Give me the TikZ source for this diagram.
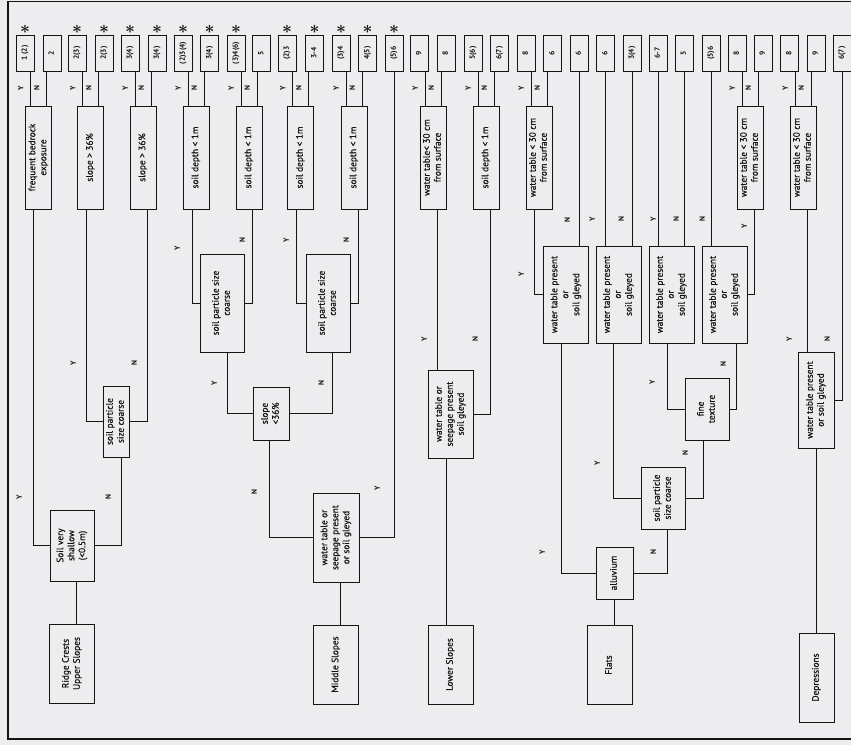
\documentclass[tikz,border=0pt]{standalone}
\usepackage{graphicx}
\usepackage{fontspec}
\setmainfont{PT Sans}
\newfontfamily\boxfont[FakeBold=0.7]{PT Sans}
\usetikzlibrary{positioning}

\definecolor{paper}{RGB}{237,237,239}
\definecolor{ink}{RGB}{20,20,20}

% rotated (bottom-to-top) text, several lines allowed
\newcommand{\rt}[1]{\rotatebox{90}{\begin{tabular}{@{}c@{}}#1\end{tabular}}}
% question box with its two answer leaves
\newcommand{\yn}[3]{%
  \draw ([xshift=-8pt]#1.north) -- ([xshift=-8pt]#1.north |- #2.south) node[lbl, midway, left=4pt] {\rt{Y}};
  \draw ([xshift=8pt]#1.north) -- ([xshift=8pt]#1.north |- #3.south) node[lbl, midway, left=4pt] {\rt{N}};}

\begin{document}
\begin{tikzpicture}[
		x=1pt, y=-1pt,
		line width=0.8pt, color=ink,
		box/.style={draw=ink, inner sep=0pt, fill=paper, font=\boxfont\fontsize{9.3}{11}\selectfont},
		ask/.style={box, minimum width=26pt, minimum height=103pt},
		leaf/.style={box, minimum width=18pt, minimum height=36pt, font=\fontsize{7.5}{9}\selectfont\bfseries},
		wtp/.style={box, minimum width=45pt, minimum height=97pt},
		site/.style={box, minimum width=45pt, minimum height=79pt},
		lbl/.style={inner sep=0pt, font=\fontsize{7.5}{9}\selectfont\bfseries},
		starred/.style={label={[inner sep=0pt, label distance=1pt, font=\LARGE\boldmath]above:$\ast$}}
		]
		\fill[paper] (0,0) rectangle (851,745);
		\useasboundingbox (0,0) rectangle (851,745);
		% frame
		\draw[line width=1.6pt] (851,1.5) -- (8,1.5) -- (8,739) -- (851,739);
		
		% Ridge crests / upper slopes
		\node[ask] (bedrock) at (38.5,157.5) {\rt{frequent bedrock\\exposure}};
		\node[leaf, starred] (bedrock-y) at (25,53) {\rt{1 (2)}};
		\node[leaf] (bedrock-n) at (52,53) {\rt{2}};
		\node[ask] (slopeA) at (90.5,157.5) {\rt{slope > 36\%}};
		\node[leaf, starred] (slopeA-y) at (77,53) {\rt{2(3)}};
		\node[leaf, starred] (slopeA-n) at (104,53) {\rt{2(3)}};
		\node[ask] (slopeB) at (143,157.5) {\rt{slope > 36\%}};
		\node[leaf, starred] (slopeB-y) at (130,53) {\rt{3(4)}};
		\node[leaf, starred] (slopeB-n) at (157,53) {\rt{3(4)}};
		\node[box, minimum width=26pt, minimum height=71pt] (coarseR) at (116,421.5) {\rt{soil particle\\size coarse}};
		\node[box, minimum width=44pt, minimum height=71pt] (shallow) at (72,545.5) {\rt{Soil very\\shallow\\(<0.5m)}};
		\node[site] (ridge) at (72,663.5) {\rt{Ridge Crests\\Upper Slopes}};
		
		% Middle slopes
		\node[ask] (depthA) at (196,157.5) {\rt{soil depth < 1m}};
		\node[leaf, starred] (depthA-y) at (183,53) {\rt{(2)3(4)}};
		\node[leaf, starred] (depthA-n) at (209.5,53) {\rt{3(4)}};
		\node[ask] (depthB) at (249,157.5) {\rt{soil depth < 1m}};
		\node[leaf, starred] (depthB-y) at (236,53) {\rt{(3)4(6)}};
		\node[leaf] (depthB-n) at (261.5,53) {\rt{5}};
		\node[ask] (depthC) at (300.5,157.5) {\rt{soil depth < 1m}};
		\node[leaf, starred] (depthC-y) at (287,53) {\rt{(2)3}};
		\node[leaf, starred] (depthC-n) at (314.5,53) {\rt{3-4}};
		\node[ask] (depthD) at (354,157.5) {\rt{soil depth < 1m}};
		\node[leaf, starred] (depthD-y) at (341,53) {\rt{(3)4}};
		\node[leaf, starred] (depthD-n) at (367.5,53) {\rt{4(5)}};
		\node[leaf, starred] (wetM-y) at (394,53) {\rt{(5)6}};
		\node[box, minimum width=44pt, minimum height=98pt] (coarseM1) at (222,303) {\rt{soil particle size\\coarse}};
		\node[box, minimum width=44pt, minimum height=98pt] (coarseM2) at (328,303) {\rt{soil particle size\\coarse}};
		\node[box, minimum width=36pt, minimum height=53pt] (slope) at (271,413.5) {\rt{slope\\<36\%}};
		\node[box, minimum width=46pt, minimum height=89pt] (midwet) at (336,537.5) {\rt{water table or\\seepage present\\or soil gleyed}};
		\node[site] (middle) at (336,664.5) {\rt{Middle Slopes}};
		
		% Lower slopes
		\node[ask] (wtL) at (433,157.5) {\rt{water table< 30 cm\\from surface}};
		\node[leaf] (wtL-y) at (419.5,53) {\rt{9}};
		\node[leaf] (wtL-n) at (446,53) {\rt{8}};
		\node[ask] (depthL) at (486,157.5) {\rt{soil depth < 1m}};
		\node[leaf] (depthL-y) at (473,53) {\rt{5(6)}};
		\node[leaf] (depthL-n) at (499.5,53) {\rt{6(7)}};
		\node[box, minimum width=45pt, minimum height=88pt] (lowwet) at (450.5,414) {\rt{water table or\\seepage present\\soil gleyed}};
		\node[site] (lower) at (450.5,664.5) {\rt{Lower Slopes}};
		
		% Flats
		\node[ask] (wtF1) at (539,157.5) {\rt{water table < 30 cm\\from surface}};
		\node[leaf] (wtF1-y) at (526,53) {\rt{8}};
		\node[leaf] (wtF1-n) at (552.5,53) {\rt{6}};
		\node[leaf] (wtp1-n) at (579,53) {\rt{6}};
		\node[leaf] (wtp2-y) at (605.5,53) {\rt{6}};
		\node[leaf] (wtp2-n) at (632,53) {\rt{3(4)}};
		\node[leaf] (wtp3-y) at (658,53) {\rt{6-7}};
		\node[leaf] (wtp3-n) at (684,53) {\rt{5}};
		\node[leaf] (wtp4-n) at (711,53) {\rt{(5)6}};
		\node[ask] (wtF2) at (750,157.5) {\rt{water table < 30 cm\\from surface}};
		\node[leaf] (wtF2-y) at (737,53) {\rt{8}};
		\node[leaf] (wtF2-n) at (763,53) {\rt{9}};
		\node[wtp] (wtp1) at (566,294.5) {\rt{water table present\\or\\soil gleyed}};
		\node[wtp] (wtp2) at (618.5,294.5) {\rt{water table present\\or\\soil gleyed}};
		\node[wtp] (wtp3) at (671.5,294.5) {\rt{water table present\\or\\soil gleyed}};
		\node[wtp] (wtp4) at (724.5,294.5) {\rt{water table present\\or\\soil gleyed}};
		\node[box, minimum width=44pt, minimum height=62pt] (fine) at (707,409) {\rt{fine\\texture}};
		\node[box, minimum width=44pt, minimum height=62pt] (coarseF) at (663,498) {\rt{soil particle\\size coarse}};
		\node[box, minimum width=37pt, minimum height=52pt] (alluv) at (614.5,573) {\rt{alluvium}};
		\node[site] (flats) at (609.5,665) {\rt{Flats}};
		
		% Depressions
		\node[ask] (wtD) at (803,157.5) {\rt{water table < 30 cm\\from surface}};
		\node[leaf] (wtD-y) at (789.5,53) {\rt{8}};
		\node[leaf] (wtD-n) at (816,53) {\rt{9}};
		\node[leaf] (dwet-n) at (842,53) {\rt{6(7)}};
		\node[box, minimum width=36pt, minimum height=96pt] (dwet) at (816,400) {\rt{water table present\\or soil gleyed}};
		\node[box, minimum width=35pt, minimum height=89pt] (depr) at (816.5,677.5) {\rt{Depressions}};
		
		% answers to the leaves
		\yn{bedrock}{bedrock-y}{bedrock-n}
		\yn{slopeA}{slopeA-y}{slopeA-n}
		\yn{slopeB}{slopeB-y}{slopeB-n}
		\yn{depthA}{depthA-y}{depthA-n}
		\yn{depthB}{depthB-y}{depthB-n}
		\yn{depthC}{depthC-y}{depthC-n}
		\yn{depthD}{depthD-y}{depthD-n}
		\yn{wtL}{wtL-y}{wtL-n}
		\yn{depthL}{depthL-y}{depthL-n}
		\yn{wtF1}{wtF1-y}{wtF1-n}
		\yn{wtF2}{wtF2-y}{wtF2-n}
		\yn{wtD}{wtD-y}{wtD-n}
		
		% branches
		\draw ([xshift=-5pt]bedrock.south) |- (shallow.west);
		\draw ([xshift=-4pt]slopeA.south) |- (coarseR.west);
		\draw ([xshift=4pt]slopeB.south) |- (coarseR.east);
		\draw ([xshift=5pt]coarseR.south) |- (shallow.east);
		\draw ([xshift=4pt]shallow.south) -- ([xshift=4pt]shallow.south |- ridge.north);
		
		\draw ([xshift=-4pt]depthA.south) |- (coarseM1.west);
		\draw ([xshift=3pt]depthB.south) |- (coarseM1.east);
		\draw ([xshift=-4pt]depthC.south) |- (coarseM2.west);
		\draw ([xshift=4pt]depthD.south) |- (coarseM2.east);
		\draw ([xshift=5pt]coarseM1.south) |- (slope.west);
		\draw ([xshift=4pt]coarseM2.south) |- (slope.east);
		\draw ([xshift=-2pt]slope.south) |- (midwet.west);
		\draw (wetM-y.south) |- (midwet.east);
		\draw ([xshift=4pt]midwet.south) -- ([xshift=4pt]midwet.south |- middle.north);
		
		\draw ([xshift=4pt]wtL.south) -- ([xshift=4pt]wtL.south |- lowwet.north);
		\draw ([xshift=4pt]depthL.south) |- (lowwet.east);
		\draw ([xshift=-4pt]lowwet.south) -- ([xshift=-4pt]lowwet.south |- lower.north);
		
		\draw ([xshift=-5pt]wtF1.south) |- (wtp1.west);
		\draw (wtp1-n.south) -- (wtp1-n.south |- wtp1.north);
		\draw (wtp2-y.south) -- (wtp2-y.south |- wtp2.north);
		\draw (wtp2-n.south) -- (wtp2-n.south |- wtp2.north);
		\draw (wtp3-y.south) -- (wtp3-y.south |- wtp3.north);
		\draw (wtp3-n.south) -- (wtp3-n.south |- wtp3.north);
		\draw (wtp4-n.south) -- (wtp4-n.south |- wtp4.north);
		\draw ([xshift=4pt]wtF2.south) |- (wtp4.east);
		\draw ([xshift=-5pt]wtp1.south) |- (alluv.west);
		\draw ([xshift=-5pt]wtp2.south) |- (coarseF.west);
		\draw ([xshift=-4pt]wtp3.south) |- (fine.west);
		\draw ([xshift=12pt]wtp4.south) |- (fine.east);
		\draw ([xshift=-4pt]fine.south) |- (coarseF.east);
		\draw ([xshift=4pt]coarseF.south) |- (alluv.east);
		\draw (alluv.south) -- (alluv.south |- flats.north);
		
		\draw ([xshift=4pt]wtD.south) -- ([xshift=4pt]wtD.south |- dwet.north);
		\draw (dwet-n.south) |- (dwet.east);
		\draw (dwet.south) -- (dwet.south |- depr.north);
		
		% Y / N on the branches
		\foreach \x/\y/\t [count=\i] in {20/497/Y, 109/497/N, 74/363/Y, 135/363/N,
				178/248/Y, 243/240/N, 287/240/Y, 347/240/N, 215/383/Y, 322/383/N, 255/492/N, 378/488/Y,
				425/339/Y, 476/339/N,
				522/274/Y, 568/220/N, 593/219/Y, 622/219/N, 654/219/Y, 677/219/N, 703/219/N, 745/226/Y,
				543/552/Y, 654/552/N, 598/463/Y, 686/453/N, 653/382/Y, 724/364/N,
				790/339/Y, 828/339/N}
		\node[lbl] (tag\i) at (\x,\y) {\rt{\t}};
	\end{tikzpicture}
\end{document}
